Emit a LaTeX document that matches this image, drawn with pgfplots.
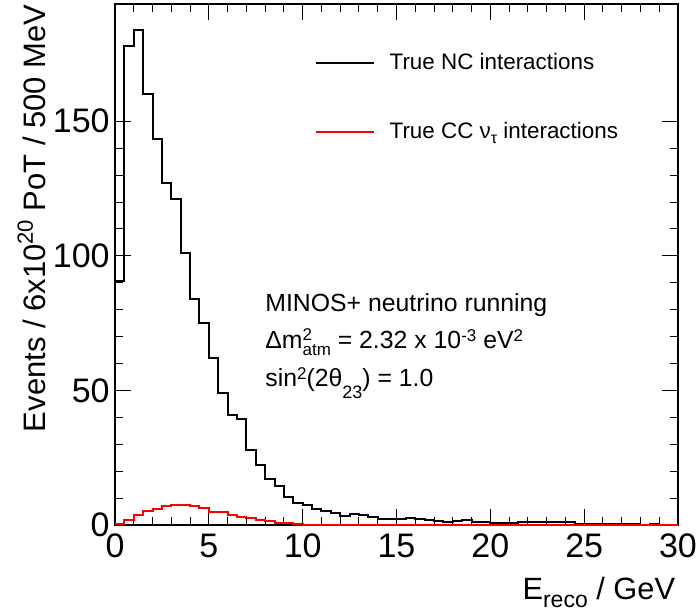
\documentclass[border=0pt]{standalone}
\usepackage{pgfplots}
\pgfplotsset{compat=1.18}
\usepackage{fontspec}
\setmainfont{Liberation Sans}
\newcommand\ann{\fontsize{12.4}{12.4}\selectfont}
\newcommand\sm{\fontsize{8.5}{8.5}\selectfont}
\newcommand\sups[1]{\raisebox{3.8pt}{\sm #1}}
\begin{document}
\begin{tikzpicture}
\useasboundingbox (0,0) rectangle (349pt,307pt);
\begin{axis}[
  at={(57.5pt,44.35pt)}, anchor=south west,
  scale only axis, width=281.5pt, height=260.65pt,
  xmin=0, xmax=30, ymin=0, ymax=193.5,
  xtick={0,5,...,30}, ytick={0,50,100,150},
  minor x tick num=4, minor y tick num=4,
  tick pos=both,
  major tick length=8pt, minor tick length=4pt,
  axis line style={line width=1pt},
  tick style={black, line width=0.5pt},
  tick label style={font=\fontsize{17}{17}\selectfont, inner sep=0pt},
  xticklabel style={yshift=-4pt},
  yticklabel style={xshift=-2.5pt},
  /pgf/number format/assume math mode=true,
  legend style={at={(rel axis cs:0.3552,0.906)}, anchor=north west,
    draw=none, fill=none, inner sep=0pt, row sep=25pt,
    font=\fontsize{11.2}{13}\selectfont,
    nodes={inner sep=0pt}},
  legend cell align=left,
  legend image code/.code={\draw[#1] (0pt,0pt) -- (29pt,0pt); \path (36.15pt,0pt);},
]
\addplot[const plot, black, line width=1pt] coordinates {
(0,90.5)(0.5,178)(1,184)(1.5,160)(2,143.5)(2.5,127)(3,121)(3.5,101)(4,84)(4.5,75)
(5,62)(5.5,49)(6,41)(6.5,39.5)(7,28)(7.5,22.5)(8,17)(8.5,14.4)(9,10.6)(9.5,8.3)
(10,7.4)(10.5,6.1)(11,5.2)(11.5,4.4)(12,3.3)(12.5,4.2)(13,3.7)(13.5,3.0)(14,2.5)(14.5,2.4)
(15,2.5)(15.5,2.6)(16,2.5)(16.5,2.1)(17,1.7)(17.5,1.4)(18,1.7)(18.5,2.0)(19,1.4)(19.5,1.4)
(20,0.9)(20.5,0.9)(21,0.9)(21.5,1.4)(22,1.1)(22.5,1.1)(23,1.1)(23.5,1.1)(24,1.1)(24.5,0.4)
(25,0.4)(25.5,0.3)(26,0.4)(26.5,0.3)(27,0.3)(27.5,0.3)(28,0.2)(28.5,0.3)(29,0.2)(29.5,0.2)(30,0.2)};
\addlegendentry{True NC interactions}
\addplot[const plot, red, line width=1pt] coordinates {
(0,0.5)(0.5,2.1)(1,4.0)(1.5,5.4)(2,6.1)(2.5,7.0)(3,7.4)(3.5,7.4)(4,7.0)(4.5,6.5)
(5,4.8)(5.5,4.8)(6,3.8)(6.5,3.1)(7,2.7)(7.5,1.9)(8,1.5)(8.5,0.9)(9,0.9)(9.5,0.5)
(10,0.2)(10.5,0.15)(11,0.15)(12,0.1)(14,0.1)(16,0.1)(18,0.1)(20,0.1)(22,0.1)(24,0.1)(26,0.1)(28,0.1)(30,0.1)};
\addlegendentry{True CC ν\raisebox{-2.5pt}{\fontsize{8}{8}\selectfont τ} interactions}
\end{axis}
\node[anchor=base west, inner sep=0pt, font=\ann] at (132.5pt,151.15pt) {MINOS+ neutrino running};
\node[anchor=base west, inner sep=0pt, font=\ann] at (132.5pt,132.5pt)
  {Δm\rlap{\raisebox{4.2pt}{\sm 2}}\raisebox{-3.3pt}{\sm atm} = 2.32 x 10\sups{-3} eV\sups{2}};
\node[anchor=base west, inner sep=0pt, font=\ann] at (132.5pt,113.5pt)
  {sin\sups{2}(2θ\raisebox{-6pt}{\fontsize{9}{9}\selectfont 23}) = 1.0};
\node[anchor=base east, inner sep=0pt, font=\fontsize{15.4}{15.4}\selectfont] at (337.75pt,7pt)
  {E\raisebox{-4pt}{\fontsize{11.5}{11.5}\selectfont reco} / GeV};
\node[rotate=90, anchor=base east, inner sep=0pt, font=\fontsize{15.5}{15.5}\selectfont] at (23pt,305pt)
  {Events / 6x10\raisebox{0.42em}{\fontsize{11}{11}\selectfont 20} PoT / 500 MeV};
\end{tikzpicture}
\end{document}
